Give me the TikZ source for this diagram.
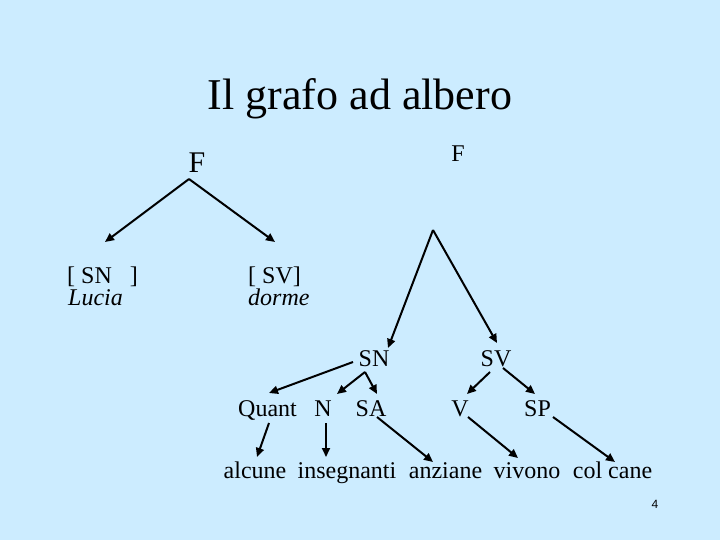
\documentclass[tikz,border=0pt]{standalone}
\usepackage{fontspec}
\setmainfont{Liberation Serif}
\setsansfont{Liberation Sans}
\usetikzlibrary{arrows.meta}

\definecolor{slideblue}{RGB}{204,236,255}

\tikzset{
  lbl/.style={inner sep=0pt,anchor=base,font=\fontsize{24}{28}\selectfont},
  arr/.style={line width=2pt,-{Triangle[length=9pt,width=8pt]}}
}

\begin{document}
\begin{tikzpicture}[x=1pt,y=-1pt]
\fill[slideblue] (0,0) rectangle (720,540);
\useasboundingbox (0,0) rectangle (720,540);
\node[lbl,font=\fontsize{44}{50}\selectfont] (title) at (360,110) {Il grafo ad albero};
% albero piatto
\node[lbl,font=\fontsize{30}{34}\selectfont] (fl) at (197,173) {F};
\node[lbl,anchor=base west] (snl) at (67,283) {[ SN\ \ \ ]};
\node[lbl,anchor=base west] (lucia) at (68,305) {\itshape Lucia};
\node[lbl,anchor=base west] (svl) at (248,283) {[ SV]};
\node[lbl,anchor=base west] (dorme) at (248,305) {\itshape dorme};
\draw[arr] ([shift={(-8,6)}]fl.base) -- ([shift={(38,-41)}]snl.base west);
\draw[arr] ([shift={(-8,6)}]fl.base) -- ([shift={(27,-41)}]svl.base west);
% albero completo
\node[lbl] (fr) at (458,162) {F};
\coordinate (root) at (433,230);
\node[lbl] (sn) at (374,366) {SN};
\node[lbl] (sv) at (496,366) {SV};
\node[lbl] (quant) at (267.5,416) {Quant};
\node[lbl] (n) at (323,416) {N};
\node[lbl] (sa) at (371,416) {SA};
\node[lbl] (v) at (460,416) {V};
\node[lbl] (sp) at (537.5,416) {SP};
\node[lbl] (alcune) at (255,478) {alcune};
\node[lbl] (insegnanti) at (347,478) {insegnanti};
\node[lbl] (anziane) at (445.5,478) {anziane};
\node[lbl] (vivono) at (527,478) {vivono};
\node[lbl] (colcane) at (612.5,478) {col cane};
\draw[arr] (root) -- ([shift={(14,-18)}]sn.base);
\draw[arr] (root) -- ([shift={(1,-23)}]sv.base);
\draw[arr] ([shift={(-21,-4)}]sn.base) -- ([shift={(1.5,-23)}]quant.base);
\draw[arr] ([shift={(-9,6)}]sn.base) -- ([shift={(14,-22)}]n.base);
\draw[arr] ([shift={(-9,6)}]sn.base) -- ([shift={(6,-22)}]sa.base);
\draw[arr] ([shift={(-6,6)}]sv.base) -- ([shift={(7,-22)}]v.base);
\draw[arr] ([shift={(7,2)}]sv.base) -- ([shift={(-2.5,-22)}]sp.base);
\draw[arr] ([shift={(1.5,7)}]quant.base) -- ([shift={(2,-21)}]alcune.base);
\draw[arr] ([shift={(3,7)}]n.base) -- ([shift={(-21,-21)}]insegnanti.base);
\draw[arr] ([shift={(6,1)}]sa.base) -- ([shift={(-12.5,-16)}]anziane.base);
\draw[arr] ([shift={(8,1)}]v.base) -- ([shift={(-9,-20)}]vivono.base);
\draw[arr] ([shift={(15.5,1)}]sp.base) -- ([shift={(2.5,-16)}]colcane.base);
% numero di pagina
\node[lbl,font=\sffamily\fontsize{12}{14}\selectfont] (page) at (655,508) {4};
\end{tikzpicture}
\end{document}
